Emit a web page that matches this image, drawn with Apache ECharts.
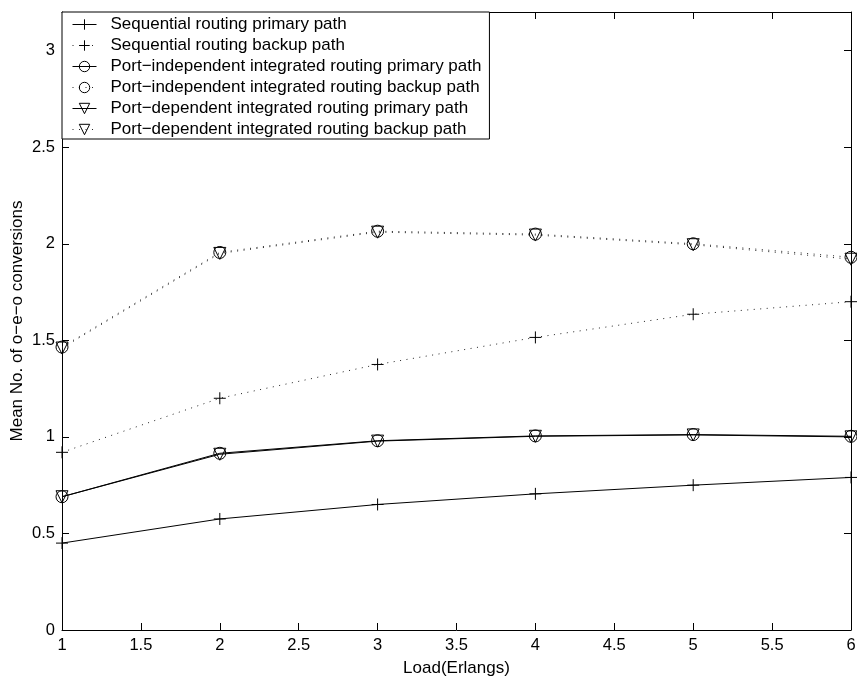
<!DOCTYPE html>
<html>
<head>
<meta charset="utf-8">
<script src="https://cdn.jsdelivr.net/npm/echarts@6/dist/echarts.min.js"></script>
<style>
  html, body { margin: 0; padding: 0; background: #fff; }
  #main { width: 857px; height: 677px; }
</style>
</head>
<body>
<div id="main"></div>
<script>
// load values on x axis
const loads = [1, 2, 3, 4, 5, 6];

// mean number of o-e-o conversions
const seqPrimary  = [0.45, 0.575, 0.65, 0.705, 0.75, 0.79];
const seqBackup   = [0.92, 1.20, 1.375, 1.515, 1.635, 1.70];
const pindPrimary = [0.69, 0.915, 0.98, 1.005, 1.012, 1.003];
const pindBackup  = [1.465, 1.955, 2.065, 2.05, 2.0, 1.93];
const pdepPrimary = [0.69, 0.91, 0.978, 1.003, 1.01, 1.0];
const pdepBackup  = [1.46, 1.95, 2.06, 2.045, 1.995, 1.92];

const names = [
  'Sequential routing primary path',
  'Sequential routing backup path',
  'Port\u2212independent integrated routing primary path',
  'Port\u2212independent integrated routing backup path',
  'Port\u2212dependent integrated routing primary path',
  'Port\u2212dependent integrated routing backup path'
];

const PLUS = 'path://M0,5L10,5M5,0L5,10';
const TRI_DOWN = 'path://M0,0L10,0L5,9Z';
const FONT = 'Liberation Sans';

function pairs(ys) {
  return loads.map((x, i) => [x, ys[i]]);
}

function mkSeries(name, ys, symbol, dotted) {
  return {
    name: name,
    type: 'line',
    data: pairs(ys),
    symbol: symbol,
    symbolSize: 12,
    showSymbol: true,
    clip: false,
    animation: false,
    lineStyle: {
      color: dotted ? '#222' : '#000',
      width: 1,
      type: dotted ? [1, 5.5] : 'solid'
    },
    itemStyle: {
      color: 'rgba(0,0,0,0)',
      borderColor: '#000',
      borderWidth: 1
    },
    emphasis: { disabled: true }
  };
}

const axisCommon = {
  axisLine: { show: true, onZero: false, lineStyle: { color: '#000', width: 1 } },
  axisTick: { show: true, inside: true, length: 7, lineStyle: { color: '#000' } },
  splitLine: { show: false }
};

const myChart = echarts.init(document.getElementById('main'), null, { renderer: 'canvas' });
myChart.setOption({
  backgroundColor: '#fff',
  animation: false,
  grid: { left: 62, right: 6, top: 12, bottom: 47, outerBoundsMode: 'none', containLabel: false },
  legend: {
    orient: 'vertical',
    left: 62,
    top: 12,
    padding: [4, 8, 1, 10],
    itemGap: 4,
    itemWidth: 24,
    itemHeight: 13,
    backgroundColor: '#fff',
    borderColor: '#000',
    borderWidth: 1,
    borderRadius: 0,
    selectedMode: false,
    lineStyle: { width: 1 },
    itemStyle: { borderWidth: 1 },
    textStyle: { fontFamily: FONT, fontSize: 17, color: '#000', padding: [0, 0, 0, 9], lineHeight: 15 },
    data: names
  },
  xAxis: [
    Object.assign({}, axisCommon, {
      type: 'value', min: 1, max: 6, interval: 0.5, position: 'bottom',
      name: 'Load(Erlangs)', nameLocation: 'middle', nameGap: 30, nameMoveOverlap: false,
      nameTextStyle: { fontFamily: FONT, fontSize: 17, color: '#000' },
      axisLabel: { fontFamily: FONT, fontSize: 16.5, color: '#000', margin: 7 }
    }),
    Object.assign({}, axisCommon, {
      type: 'value', min: 1, max: 6, interval: 0.5, position: 'top',
      axisLabel: { show: false }
    })
  ],
  yAxis: [
    Object.assign({}, axisCommon, {
      type: 'value', min: 0, max: 3.2, interval: 0.5, position: 'left',
      name: 'Mean No. of o\u2212e\u2212o conversions', nameLocation: 'middle', nameGap: 36, nameMoveOverlap: false,
      nameTextStyle: { fontFamily: FONT, fontSize: 17, color: '#000' },
      axisLabel: { fontFamily: FONT, fontSize: 16.5, color: '#000', margin: 7, showMaxLabel: false }
    }),
    Object.assign({}, axisCommon, {
      type: 'value', min: 0, max: 3.2, interval: 0.5, position: 'right',
      axisLabel: { show: false }
    })
  ],
  series: [
    mkSeries(names[0], seqPrimary, PLUS, false),
    mkSeries(names[1], seqBackup, PLUS, true),
    mkSeries(names[2], pindPrimary, 'circle', false),
    mkSeries(names[3], pindBackup, 'circle', true),
    mkSeries(names[4], pdepPrimary, TRI_DOWN, false),
    mkSeries(names[5], pdepBackup, TRI_DOWN, true)
  ]
});
</script>
</body>
</html>
